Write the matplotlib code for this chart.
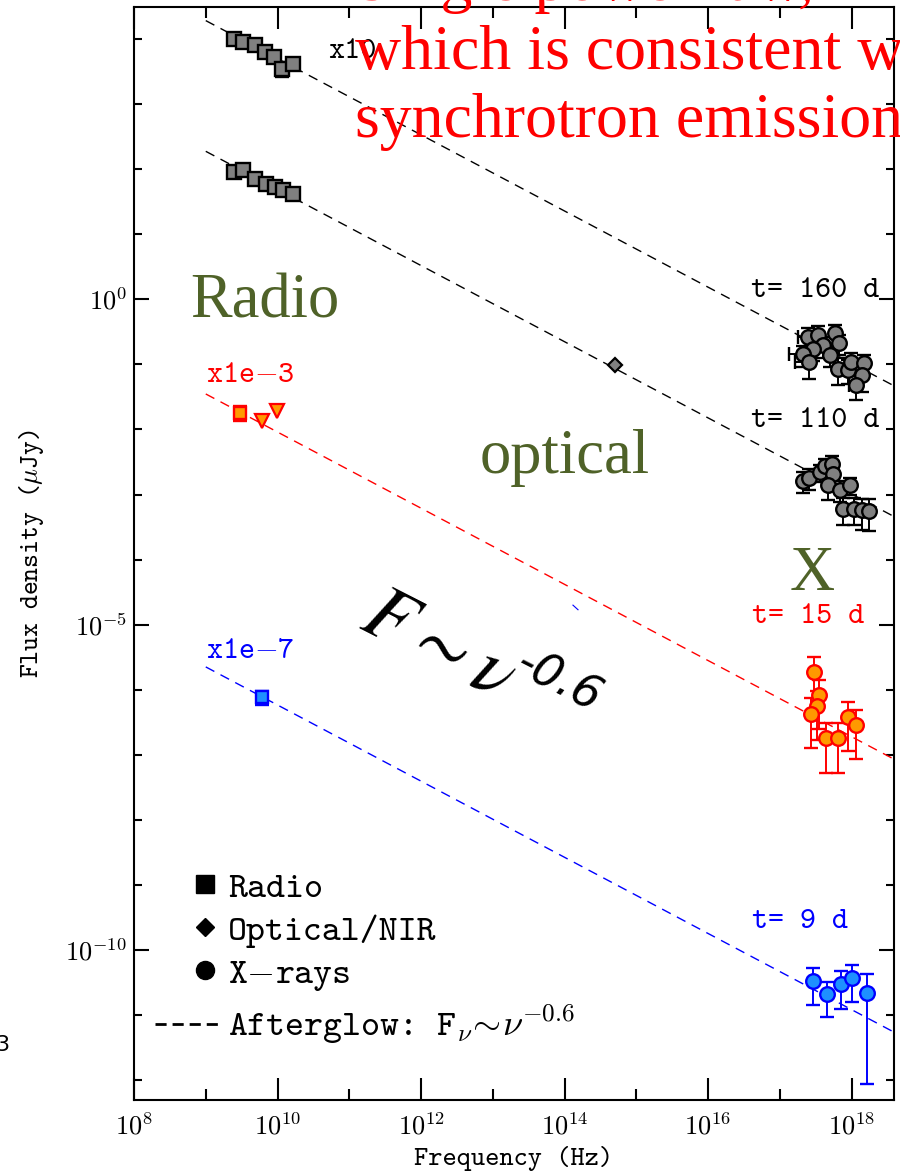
import numpy as np
import matplotlib
matplotlib.use('Agg')
import matplotlib.pyplot as plt
from matplotlib.lines import Line2D
from matplotlib.legend_handler import HandlerLine2D
from matplotlib.font_manager import FontProperties
from matplotlib.ticker import NullFormatter

plt.rcParams['mathtext.fontset'] = 'cm'
plt.rcParams['lines.scale_dashes'] = False

# ---- data (flux values as plotted, i.e. already scaled) ----
# radio, t = 160 d (x10)
nu_r160 = [2.5e9, 3.3e9, 4.85e9, 6.7e9, 9.0e9, 1.15e10, 1.66e10]
f_r160 = [1.01e4, 8.95e3, 7.98e3, 6.31e3, 5.28e3, 3.49e3, 4.17e3]
e_r160 = [0.05, 0.05, 0.05, 0.05, 0.05, 0.25, 0.05]
# radio, t = 110 d
nu_r110 = [2.5e9, 3.3e9, 4.9e9, 6.9e9, 9.3e9, 1.2e10, 1.66e10]
f_r110 = [90.2, 95.9, 71.4, 59.8, 53.1, 47.2, 42.1]
e_r110 = [0.15, 0.05, 0.05, 0.05, 0.05, 0.05, 0.05]
# optical / NIR, t = 110 d
nu_opt = [5.06e14]
f_opt = [0.0968]
# X-rays, t = 160 d (x10)
nu_x160 = [2.50e17, 3.38e17, 5.89e17, 6.76e17, 4.05e17, 2.94e17, 2.13e17, 2.58e17,
           5.01e17, 6.55e17, 9.02e17, 9.84e17, 1.51e18, 1.39e18, 1.16e18]
f_x160 = [0.264, 0.287, 0.303, 0.213, 0.196, 0.175, 0.142, 0.109,
          0.138, 0.0861, 0.0832, 0.109, 0.105, 0.0681, 0.0478]
e_x160 = [0.35, 0.35, 0.35, 0.35, 0.35, 0.35, 0.35, 0.45,
          0.35, 0.45, 0.40, 0.35, 0.35, 0.45, 0.40]
xlo_x160 = [0.15, 0, 0, 0, 0, 0, 0.2, 0.2, 0, 0, 0.1, 0, 0, 0, 0.1]
# X-rays, t = 110 d
nu_x110 = [2.09e17, 2.58e17, 3.64e17, 4.28e17, 5.30e17, 5.57e17, 4.75e17,
           6.92e17, 9.53e17, 7.69e17, 1.08e18, 1.39e18, 1.77e18]
f_x110 = [1.62e-3, 1.82e-3, 2.22e-3, 2.72e-3, 2.99e-3, 2.10e-3, 1.39e-3,
          1.19e-3, 1.39e-3, 6.10e-4, 6.10e-4, 5.74e-4, 5.60e-4]
e_x110 = [0.35, 0.35, 0.30, 0.30, 0.30, 0.30, 0.40,
          0.35, 0.30, 0.45, 0.45, 0.50, 0.50]
# t = 15 d (x1e-3)
nu_r15 = [3.0e9]
f_r15 = [0.01816]
e_r15 = [0.25]
nu_ul15 = [6.03e9, 9.93e9]
f_ul15 = [0.01352, 0.01923]
nu_x15 = [3.03e17, 3.56e17, 3.33e17, 2.72e17, 4.41e17, 6.55e17, 8.85e17, 1.16e18]
f_x15 = [1.85e-6, 8.26e-7, 5.60e-7, 4.33e-7, 1.79e-7, 1.79e-7, 3.84e-7, 2.86e-7]
e_x15 = [0.75, 0.7, 0.7, 0.7, 0.7, 0.7, 0.7, 0.7]
# t = 9 d (x1e-7)
nu_r9 = [6.03e9]
f_r9 = [7.78e-7]
e_r9 = [0.25]
nu_x9 = [2.94e17, 4.60e17, 7.06e17, 1.01e18, 1.63e18]
f_x9 = [3.37e-11, 2.11e-11, 3.01e-11, 3.76e-11, 2.21e-11]
e_x9 = [0.58, 0.55, 0.58, 0.58, 0.96]

# afterglow power laws F = A (nu / 1e9)^-beta
beta = 0.585
nu_line = [1e9, 1e19]
amp_160 = 1.91e4
amp_110 = 187.5
amp_15 = 0.0351
amp_9 = 2.25e-6

xticks = [1e8, 1e10, 1e12, 1e14, 1e16, 1e18]
xticklabels = [r'$\mathtt{10^{8}}$', r'$\mathtt{10^{10}}$', r'$\mathtt{10^{12}}$',
               r'$\mathtt{10^{14}}$', r'$\mathtt{10^{16}}$', r'$\mathtt{10^{18}}$']
xminor = [1e9, 1e11, 1e13, 1e15, 1e17]
yticks = [1e-10, 1e-5, 1e0]
yticklabels = [r'$\mathtt{10^{-10}}$', r'$\mathtt{10^{-5}}$', r'$\mathtt{10^{0}}$']
yminor = [10.0 ** k for k in range(-12, 5)]

GRAY = '#808080'
ORANGE = '#ff9900'
LBLUE = '#1e90ff'
GREEN = '#4f6228'
TT = 'cmtt10'

fig = plt.figure(figsize=(9, 11.72), dpi=100)
ax = fig.add_axes([134 / 900, 1 - 1100 / 1172, 760 / 900, 1093 / 1172])
ax.set_xscale('log')
ax.set_yscale('log')


def pts(nu, f, rel, fmt, mfc, mec, ms, xlo=None):
    f = np.array(f)
    rel = np.array(rel)
    yerr = [f * rel, f * rel]
    xerr = None
    if xlo is not None:
        nu_a = np.array(nu)
        xerr = [nu_a - nu_a * 10 ** (-np.array(xlo)), np.zeros(len(nu))]
    ax.errorbar(nu, f, yerr=yerr, xerr=xerr, fmt=fmt, ms=ms, mfc=mfc, mec=mec, mew=1.7,
                ecolor=mec, elinewidth=1.4, capsize=5, capthick=1.4)


for amp, c in [(amp_160, 'k'), (amp_110, 'k'), (amp_15, 'red'), (amp_9, 'blue')]:
    nl = np.array(nu_line)
    ax.plot(nl, amp * (nl / 1e9) ** -beta, color=c, lw=1.0, dashes=(7, 5))

pts(nu_r160, f_r160, e_r160, 's', GRAY, 'k', 9.5)
pts(nu_r110, f_r110, e_r110, 's', GRAY, 'k', 9.5)
ax.plot(nu_opt, f_opt, 'D', ms=7, mfc=GRAY, mec='k', mew=1.6)
pts(nu_x160, f_x160, e_x160, 'o', GRAY, 'k', 10.5, xlo=xlo_x160)
pts(nu_x110, f_x110, e_x110, 'o', GRAY, 'k', 10.5)
pts(nu_r15, f_r15, e_r15, 's', ORANGE, 'red', 9)
ax.plot(nu_ul15, f_ul15, 'v', ms=10, mfc=ORANGE, mec='red', mew=1.6)
pts(nu_x15, f_x15, e_x15, 'o', ORANGE, 'red', 10.5)
pts(nu_r9, f_r9, e_r9, 's', LBLUE, 'blue', 9)
pts(nu_x9, f_x9, e_x9, 'o', LBLUE, 'blue', 10.5)
# small stray blue stroke
ax.plot([1.31e14, 1.54e14], [2.0e-5, 1.7e-5], color='blue', lw=0.8)

ax.set_xlim(1e8, 3.9e18)
ax.set_ylim(5.0e-13, 3.09e4)
ax.set_xticks(xticks)
ax.set_xticklabels(xticklabels)
ax.set_xticks(xminor, minor=True)
ax.xaxis.set_minor_formatter(NullFormatter())
ax.set_yticks(yticks)
ax.set_yticklabels(yticklabels)
ax.set_yticks(yminor, minor=True)
ax.yaxis.set_minor_formatter(NullFormatter())
ax.tick_params(which='both', direction='in', top=True, right=True, width=1.5,
               labelsize=19)
ax.tick_params(axis='x', which='major', length=16, pad=10)
ax.tick_params(axis='x', which='minor', length=8)
ax.tick_params(axis='y', which='major', length=11, pad=5)
ax.tick_params(axis='y', which='minor', length=6)
for s in ax.spines.values():
    s.set_linewidth(1.5)

ax.set_xlabel('Frequency (Hz)', fontfamily=TT, fontsize=19.5, labelpad=4)
ax.set_ylabel(r'Flux density ($\mu$Jy)', fontfamily=TT, fontsize=19, labelpad=14)

# annotations
ax.text(10 ** 10.704, 10 ** 3.794, 'x10', fontfamily=TT, fontsize=22, va='center')
ax.text(10 ** 16.599, 10 ** 0.123, 't= 160 d', fontfamily=TT, fontsize=22, va='center')
ax.text(10 ** 16.599, 10 ** -1.874, 't= 110 d', fontfamily=TT, fontsize=22, va='center')
ax.text(10 ** 16.613, 10 ** -4.885, 't= 15 d', fontfamily=TT, fontsize=22, va='center',
        color='red')
ax.text(10 ** 16.613, 10 ** -9.57, 't= 9 d', fontfamily=TT, fontsize=22, va='center',
        color='blue')
ax.text(10 ** 9.0, 10 ** -1.183, r'x1e$-$3', fontfamily=TT, fontsize=22, va='center',
        color='red')
ax.text(10 ** 9.0, 10 ** -5.42, r'x1e$-$7', fontfamily=TT, fontsize=22, va='center',
        color='blue')

ax.text(10 ** 8.78, 10 ** -0.276, 'Radio', fontfamily='Liberation Serif', fontsize=45,
        color=GREEN, va='baseline')
ax.text(10 ** 12.822, 10 ** -2.673, 'optical', fontfamily='Liberation Serif', fontsize=45,
        color=GREEN, va='baseline')
ax.text(10 ** 17.143, 10 ** -4.47, 'X', fontfamily='Liberation Serif', fontsize=45,
        color=GREEN, va='baseline')

ax.text(10 ** 11.08, 10 ** 2.488, 'Single power law,\nwhich is consistent with\nsynchrotron emission',
        fontfamily='Liberation Serif', fontsize=46, color='red', ha='left', va='baseline',
        linespacing=1.24)

ax.text(10 ** 11.108, 10 ** -5.038, r'$F\sim\nu$', fontsize=56,
        math_fontfamily='stix', rotation=-27, rotation_mode='anchor',
        ha='left', va='baseline')
ax.text(10 ** 13.28, 10 ** -5.73, '-0.6', fontfamily='DejaVu Sans', style='italic',
        fontsize=33, rotation=-27, rotation_mode='anchor', ha='left', va='baseline')

fig.text(9 / 900, 1 - 1045 / 1172, '3', ha='right', va='center', fontsize=16)


class RightMarker(HandlerLine2D):
    def create_artists(self, legend, orig_handle, xdescent, ydescent, width, height,
                       fontsize, trans):
        y = (height - ydescent) / 2
        m = Line2D([width - xdescent - 0.36 * fontsize], [y])
        self.update_prop(m, orig_handle, legend)
        m.set_transform(trans)
        return [m]


handles = [
    Line2D([], [], ls='none', marker='s', ms=13, color='k'),
    Line2D([], [], ls='none', marker='D', ms=9, color='k'),
    Line2D([], [], ls='none', marker='o', ms=13, color='k'),
    Line2D([], [], color='k', lw=2, dashes=(8, 4.3)),
]
labels = ['Radio', 'Optical/NIR', r'X$-$rays',
          r'Afterglow: F$_{\nu}\!\sim\!\nu^{\mathsf{-0.6}}$']
ax.legend(handles, labels, loc='upper left', bbox_to_anchor=(0.0276, 0.209),
          frameon=False, prop=FontProperties(family=TT, size=26), handlelength=1.74,
          handletextpad=0.28, labelspacing=0.27, borderpad=0, borderaxespad=0,
          handler_map={h: RightMarker() for h in handles[:3]})

fig.savefig('out.png', dpi=100)
